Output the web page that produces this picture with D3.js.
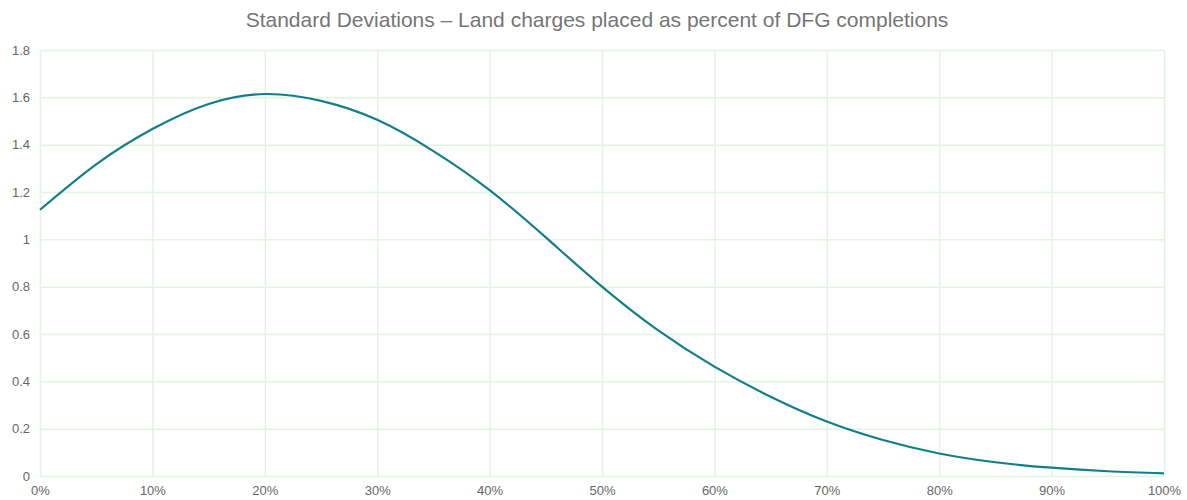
<!DOCTYPE html>
<html>
<head>
<meta charset="utf-8">
<script src="https://cdn.jsdelivr.net/npm/d3@7"></script>
<style>
  body { margin: 0; background: #fff; }
  text { font-family: "Liberation Sans", Arial, sans-serif; }
</style>
</head>
<body>
<script>
var outerWidth = 1187;
var outerHeight = 500;

var title = 'Standard Deviations \u2013 Land charges placed as percent of DFG completions';

// x positions (percent of completions) and the std dev curve
var percents = [0, 5, 10, 15, 20, 25, 30, 35, 40, 45, 50, 55, 60, 65, 70, 75, 80, 85, 90, 95, 100];
var values = [1.125, 1.317, 1.466, 1.572, 1.614, 1.585, 1.505, 1.373, 1.208, 1.008, 0.80, 0.615, 0.462, 0.335, 0.23, 0.152, 0.095, 0.058, 0.035, 0.02, 0.011];

var xTicks = [0, 10, 20, 30, 40, 50, 60, 70, 80, 90, 100];
var yTicks = [0, 0.2, 0.4, 0.6, 0.8, 1, 1.2, 1.4, 1.6, 1.8];

var margin = {top: 50, right: 23, bottom: 24, left: 40};
var width = outerWidth - margin.left - margin.right,
    height = outerHeight - margin.top - margin.bottom;

var svg = d3.select('body').append('svg')
  .attr('width', outerWidth)
  .attr('height', outerHeight);

svg.append('text')
  .attr('x', 597)
  .attr('y', 27)
  .attr('text-anchor', 'middle')
  .style('font-size', '21px')
  .style('fill', '#757575')
  .text(title);

var g = svg.append('g')
  .attr('transform', 'translate(' + margin.left + ',' + margin.top + ')');

var x = d3.scaleLinear().domain([0, 100]).range([0, width]);
var y = d3.scaleLinear().domain([0, 1.8]).range([height, 0]);

// grid
g.append('g')
  .attr('class', 'grid-x')
  .call(d3.axisBottom(x).tickValues(xTicks).tickSize(height).tickFormat(''))
  .call(function(s){ s.select('.domain').remove(); })
  .selectAll('line')
  .attr('stroke', '#e3f3e2')
  .attr('stroke-width', 1.5);

g.append('g')
  .attr('class', 'grid-y')
  .call(d3.axisLeft(y).tickValues(yTicks).tickSize(-width).tickFormat(''))
  .call(function(s){ s.select('.domain').remove(); })
  .selectAll('line')
  .attr('stroke', '#e3f3e2')
  .attr('stroke-width', 1.5);

// axis labels
var yAxis = g.append('g')
  .call(d3.axisLeft(y).tickValues(yTicks).tickSize(0).tickPadding(10)
    .tickFormat(function(d){ return String(+d.toFixed(1)); }));
yAxis.select('.domain').remove();
yAxis.selectAll('text')
  .style('font-size', '13px')
  .style('fill', '#666')
  .style('font-family', '"Liberation Sans", Arial, sans-serif');

var xAxis = g.append('g')
  .attr('transform', 'translate(0,' + height + ')')
  .call(d3.axisBottom(x).tickValues(xTicks).tickSize(0).tickPadding(10)
    .tickFormat(function(d){ return d + '%'; }));
xAxis.select('.domain').remove();
xAxis.selectAll('text')
  .style('font-size', '13px')
  .style('fill', '#666')
  .style('font-family', '"Liberation Sans", Arial, sans-serif');

var points = percents.map(function(p, i){ return [p, values[i]]; });

var line = d3.line()
  .x(function(d){ return x(d[0]); })
  .y(function(d){ return y(d[1]); })
  .curve(d3.curveNatural);

g.append('path')
  .datum(points)
  .attr('fill', 'none')
  .attr('stroke', '#117e8a')
  .attr('stroke-width', 2.2)
  .attr('d', line);
</script>
</body>
</html>
